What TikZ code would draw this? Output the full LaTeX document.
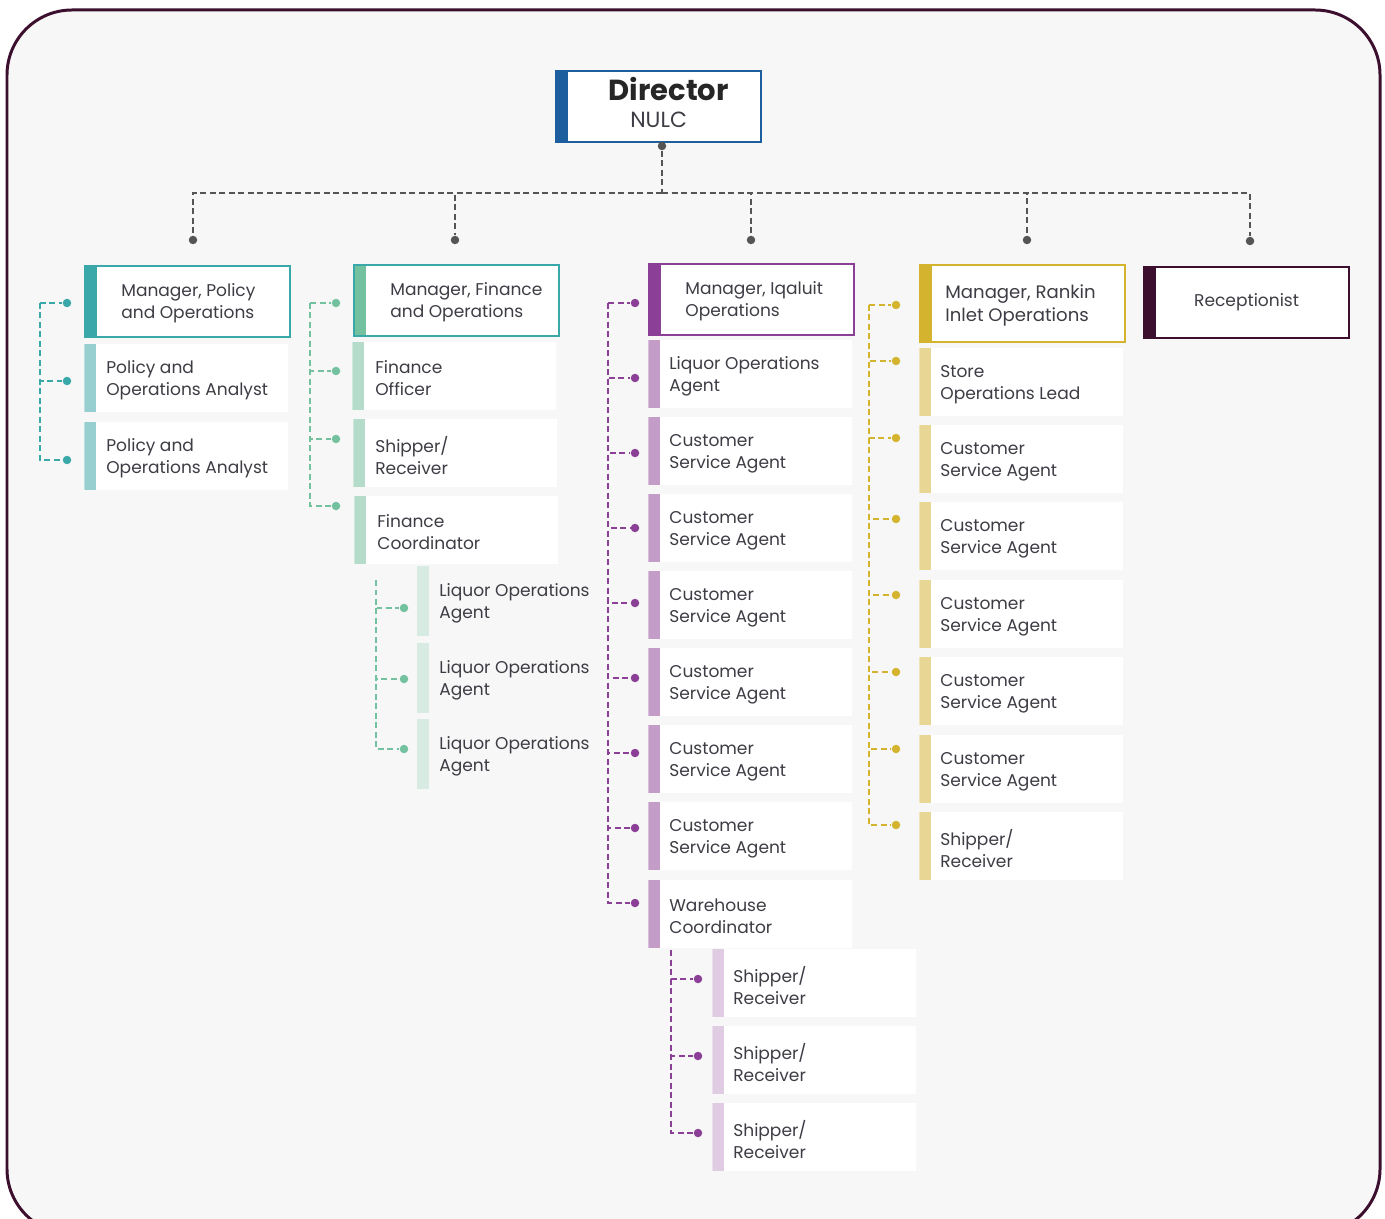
\documentclass[tikz,border=0pt]{standalone}
\usepackage{fontspec}
\setmainfont{Poppins}
\definecolor{bg}{HTML}{F7F7F7}
\definecolor{ink}{HTML}{3D3D45}
\definecolor{frame}{HTML}{3B0F2D}
\definecolor{navy}{HTML}{1D5F9E}
\definecolor{linkgrey}{HTML}{555555}
\definecolor{teal}{HTML}{3AA8A8}
\definecolor{teallight}{HTML}{97CFD1}
\definecolor{green}{HTML}{74C19F}
\definecolor{greenlight}{HTML}{B5DCCB}
\definecolor{greenpale}{HTML}{D8EBE2}
\definecolor{purple}{HTML}{8B3F96}
\definecolor{purplelight}{HTML}{C39DC8}
\definecolor{purplepale}{HTML}{DFCBE2}
\definecolor{gold}{HTML}{D4B32E}
\definecolor{goldlight}{HTML}{E8D794}

\begin{document}
\begin{tikzpicture}[x=0.02cm, y=-0.02cm]
	\tikzset{card/.style={anchor=north west, inner sep=0pt, minimum width=4.08cm, minimum height=1.36cm, fill=white,
			path picture={\fill[#1] (path picture bounding box.north west) rectangle ([xshift=0.24cm]path picture bounding box.south west);}}}
	\tikzset{head/.style={card=#1, draw=#1, line width=1.3pt, minimum width=4.1cm, minimum height=1.42cm, text=ink, font=\fontsize{9.7}{12.5}\selectfont}}
	\tikzset{stub/.style={anchor=north west, inner sep=0pt, minimum width=0.24cm, minimum height=1.4cm, fill=#1}}
	\tikzset{txt/.style={anchor=west, align=left, inner sep=0pt, text=ink, font=\fontsize{9.7}{12.5}\selectfont, yshift=-0.04cm}}
	\tikzset{dot/.style={circle, fill=#1, inner sep=0pt, minimum size=0.17cm}}
	\tikzset{link/.style={draw=#1, dash pattern=on 0.12cm off 0.07cm, line width=0.9pt}}
	
	\clip (0,0) rectangle (1385,1219);
	\draw[frame, line width=1.7pt, fill=bg, rounded corners=1.3cm] (7,10) rectangle (1380,1234);
	
	% director
	\node[head=navy, label={[align=center, text=ink, yshift=0.08cm]center:{{\fontsize{16.5}{18}\selectfont\bfseries\color{black!85}\hspace*{0.4cm}Director}\\[3pt]{\fontsize{12.5}{14}\selectfont NULC}}}] (dir) at (555,70) {};
	\node[dot=linkgrey] (g_0) at (662,146) {};
	\coordinate (hub) at (662,193);
	\node[dot=linkgrey] (g_1) at (193,240) {};
	\node[dot=linkgrey] (g_2) at (455,240) {};
	\node[dot=linkgrey] (g_3) at (751,240) {};
	\node[dot=linkgrey] (g_4) at (1027,240) {};
	\node[dot=linkgrey] (g_5) at (1250,241) {};
	\draw[link=linkgrey] (g_0) -- (hub);
	\foreach \i in {1,...,5} \draw[link=linkgrey] (hub) -| (g_\i);
	
	% policy
	\node[head=teal, label={[txt, xshift=0.74cm]west:{Manager, Policy\\and Operations}}] (m_1) at (84,265) {};
	\node[card=teallight, label={[txt, xshift=0.44cm]west:{Policy and\\Operations Analyst}}] (v_1) at (84,344) {};
	\node[card=teallight, label={[txt, xshift=0.44cm]west:{Policy and\\Operations Analyst}}] (v_2) at (84,422) {};
	\coordinate (a_0) at (40,303);
	\node[dot=teal] (a_1) at (67,303) {};
	\node[dot=teal] (a_2) at (67,381) {};
	\node[dot=teal] (a_3) at (67,460) {};
	\foreach \i in {1,2,3} \draw[link=teal] (a_0) |- (a_\i);
	
	% finance
	\node[head=green, draw=teal, label={[txt, xshift=0.74cm]west:{Manager, Finance\\and Operations}}] (m_2) at (353,264) {};
	\node[card=greenlight, label={[txt, xshift=0.46cm]west:{Finance\\Officer}}] (v_3) at (352,342) {};
	\node[card=greenlight, label={[txt, xshift=0.44cm]west:{Shipper/\\Receiver}}] (v_4) at (353,419) {};
	\node[card=greenlight, label={[txt, xshift=0.46cm]west:{Finance\\Coordinator}}] (v_5) at (354,496) {};
	\node[stub=greenpale, label={[txt, xshift=0.44cm]west:{Liquor Operations\\Agent}}] (v_6) at (417,566) {};
	\node[stub=greenpale, label={[txt, xshift=0.44cm]west:{Liquor Operations\\Agent}}] (v_7) at (417,643) {};
	\node[stub=greenpale, label={[txt, xshift=0.44cm]west:{Liquor Operations\\Agent}}] (v_8) at (417,719) {};
	\coordinate (b_0) at (310,303);
	\node[dot=green] (b_1) at (336,303) {};
	\node[dot=green] (b_2) at (336,371) {};
	\node[dot=green] (b_3) at (336,439) {};
	\node[dot=green] (b_4) at (336,506) {};
	\foreach \i in {1,...,4} \draw[link=green] (b_0) |- (b_\i);
	\coordinate (e_0) at (376,580);
	\node[dot=green] (e_1) at (404,608) {};
	\node[dot=green] (e_2) at (404,679) {};
	\node[dot=green] (e_3) at (404,749) {};
	\foreach \i in {1,2,3} \draw[link=green] (e_0) |- (e_\i);
	
	% iqaluit
	\node[head=purple, label={[txt, xshift=0.74cm]west:{Manager, Iqaluit\\Operations}}] (m_3) at (648,263) {};
	\node[card=purplelight, label={[txt, xshift=0.42cm]west:{Liquor Operations\\Agent}}] (v_9) at (648,340) {};
	\node[card=purplelight, label={[txt, xshift=0.42cm]west:{Customer\\Service Agent}}] (v_10) at (648,417) {};
	\node[card=purplelight, label={[txt, xshift=0.42cm]west:{Customer\\Service Agent}}] (v_11) at (648,494) {};
	\node[card=purplelight, label={[txt, xshift=0.42cm]west:{Customer\\Service Agent}}] (v_12) at (648,571) {};
	\node[card=purplelight, label={[txt, xshift=0.42cm]west:{Customer\\Service Agent}}] (v_13) at (648,648) {};
	\node[card=purplelight, label={[txt, xshift=0.42cm]west:{Customer\\Service Agent}}] (v_14) at (648,725) {};
	\node[card=purplelight, label={[txt, xshift=0.42cm]west:{Customer\\Service Agent}}] (v_15) at (648,802) {};
	\node[card=purplelight, label={[txt, xshift=0.42cm]west:{Warehouse\\Coordinator}}] (v_16) at (648,880) {};
	\node[card=purplepale, label={[txt, xshift=0.42cm]west:{Shipper/\\Receiver}}] (v_17) at (712,949) {};
	\node[card=purplepale, label={[txt, xshift=0.42cm]west:{Shipper/\\Receiver}}] (v_18) at (712,1026) {};
	\node[card=purplepale, label={[txt, xshift=0.42cm]west:{Shipper/\\Receiver}}] (v_19) at (712,1103) {};
	\coordinate (c_0) at (608,303);
	\node[dot=purple] (c_1) at (635,303) {};
	\node[dot=purple] (c_2) at (635,378) {};
	\node[dot=purple] (c_3) at (635,453) {};
	\node[dot=purple] (c_4) at (635,528) {};
	\node[dot=purple] (c_5) at (635,603) {};
	\node[dot=purple] (c_6) at (635,678) {};
	\node[dot=purple] (c_7) at (635,753) {};
	\node[dot=purple] (c_8) at (635,828) {};
	\node[dot=purple] (c_9) at (635,903) {};
	\foreach \i in {1,...,9} \draw[link=purple] (c_0) |- (c_\i);
	\coordinate (f_0) at (671,950);
	\node[dot=purple] (f_1) at (698,979) {};
	\node[dot=purple] (f_2) at (698,1056) {};
	\node[dot=purple] (f_3) at (698,1133) {};
	\foreach \i in {1,2,3} \draw[link=purple] (f_0) |- (f_\i);
	
	% rankin inlet
	\node[head=gold, minimum height=1.54cm, label={[txt, xshift=0.52cm, font=\fontsize{10.3}{13}\selectfont]west:{Manager, Rankin\\Inlet Operations}}] (m_4) at (919,264) {};
	\node[card=goldlight, label={[txt, xshift=0.42cm]west:{Store\\Operations Lead}}] (v_20) at (919,348) {};
	\node[card=goldlight, label={[txt, xshift=0.42cm]west:{Customer\\Service Agent}}] (v_21) at (919,425) {};
	\node[card=goldlight, label={[txt, xshift=0.42cm]west:{Customer\\Service Agent}}] (v_22) at (919,502) {};
	\node[card=goldlight, label={[txt, xshift=0.42cm]west:{Customer\\Service Agent}}] (v_23) at (919,580) {};
	\node[card=goldlight, label={[txt, xshift=0.42cm]west:{Customer\\Service Agent}}] (v_24) at (919,657) {};
	\node[card=goldlight, label={[txt, xshift=0.42cm]west:{Customer\\Service Agent}}] (v_25) at (919,735) {};
	\node[card=goldlight, label={[txt, xshift=0.42cm]west:{Shipper/\\Receiver}}] (v_26) at (919,812) {};
	\coordinate (h_0) at (869,305);
	\node[dot=gold] (h_1) at (896,305) {};
	\node[dot=gold] (h_2) at (896,361) {};
	\node[dot=gold] (h_3) at (896,438) {};
	\node[dot=gold] (h_4) at (896,519) {};
	\node[dot=gold] (h_5) at (896,595) {};
	\node[dot=gold] (h_6) at (896,672) {};
	\node[dot=gold] (h_7) at (896,749) {};
	\node[dot=gold] (h_8) at (896,825) {};
	\foreach \i in {1,...,8} \draw[link=gold] (h_0) |- (h_\i);
	
	% receptionist
	\node[head=frame] (m_5) at (1143,266) {\raisebox{0.08cm}{Receptionist}};
	
\end{tikzpicture}
\end{document}
